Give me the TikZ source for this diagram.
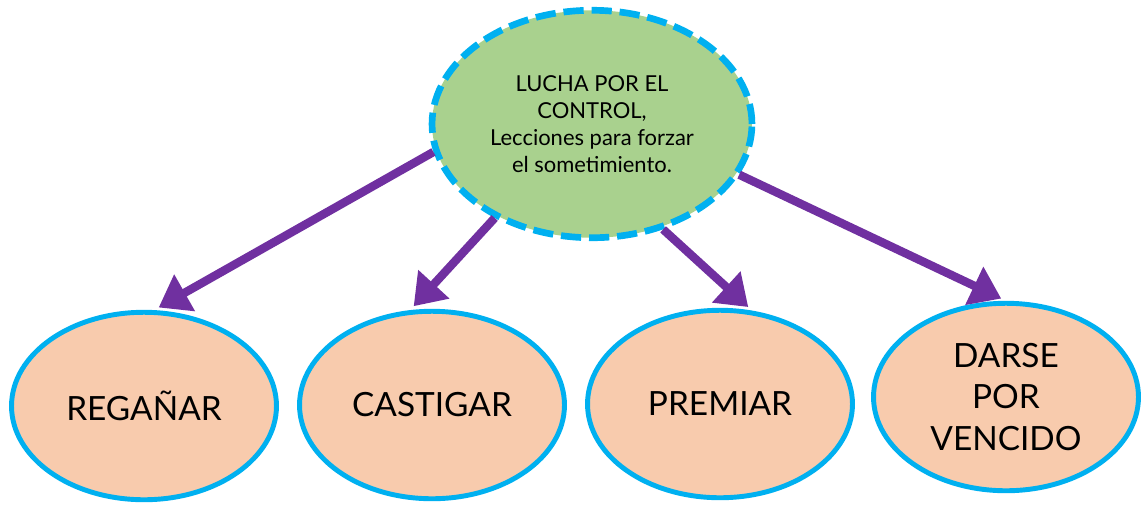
\documentclass[tikz,border=0pt]{standalone}
\usepackage{fontspec}
\setmainfont{Lato}
\usetikzlibrary{shapes.geometric,arrows.meta}
\definecolor{celeste}{HTML}{00B0F0}
\definecolor{verde}{HTML}{A9D18E}
\definecolor{durazno}{HTML}{F8CBAD}
\definecolor{morado}{HTML}{7030A0}
\begin{document}
\begin{tikzpicture}[x=0.02cm,y=-0.02cm,
    tema/.style={ellipse,draw=celeste,fill=verde,line width=3.8pt,dash pattern=on 11.5pt off 4.5pt,
        minimum width=6.4cm,minimum height=4.55cm,align=center,font=\fontsize{12.5}{15.5}\selectfont},
    accion/.style={ellipse,draw=celeste,fill=durazno,line width=2.8pt,
        minimum width=5.3cm,minimum height=3.75cm,align=center,font=\fontsize{19}{23.5}\selectfont},
    flecha/.style={draw=morado,line width=4.8pt,-{Triangle[width=23pt,length=17pt]},shorten >=3pt}]
    \useasboundingbox (0,0) rectangle (1142,505);

    \node[tema] (lucha) at (592,124) {LUCHA POR EL\\CONTROL,\\Lecciones para forzar\\el sometimiento.};

    \node[accion] (reganar) at (144,406) {REGAÑAR};
    \node[accion] (castigar) at (432,405) {CASTIGAR};
    \node[accion] (premiar) at (720,404) {PREMIAR};
    \node[accion] (darse) at (1006,397) {DARSE\\POR\\VENCIDO};

    \draw[flecha] (lucha.190) -- (reganar.84);
    \draw[flecha] (lucha.224) -- (castigar.103);
    \draw[flecha] (lucha.304) -- (premiar.71);
    \draw[flecha] (lucha.341) -- (darse.north);
\end{tikzpicture}
\end{document}
